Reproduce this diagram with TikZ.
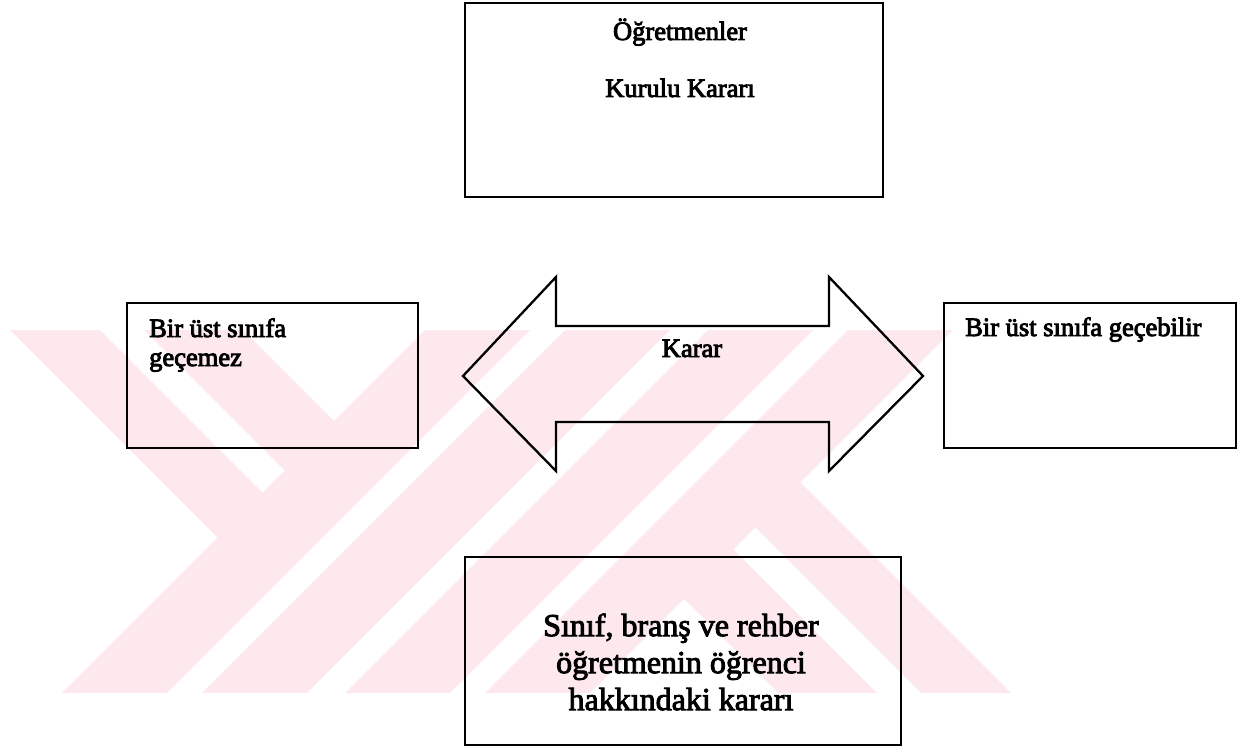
\documentclass[tikz,border=0pt]{standalone}
\usepackage{fontspec}
\setmainfont{Liberation Serif}
\newcommand\emb{\special{pdf:literal direct 2 Tr 0.9 w}}
\definecolor{wmpink}{RGB}{253,233,237}
\begin{document}
\begin{tikzpicture}[x=1pt,y=-1pt,
  wm/.style={fill=wmpink,draw=none},
  boxn/.style={draw=black,line width=2.3pt,inner sep=0pt},
  lbl/.style={font=\fontsize{26.5}{31}\selectfont,inner sep=0pt},
  blbl/.style={font=\fontsize{32}{37}\selectfont,inner sep=0pt,align=center}]
\useasboundingbox (0,0) rectangle (1252,754);
% watermark
\fill[wm] (425,330) -- (530,330) -- (167,693) -- (62,693) -- cycle;
\fill[wm] (565,330) -- (670,330) -- (307,693) -- (202,693) -- cycle;
\fill[wm] (708,330) -- (813,330) -- (450,693) -- (345,693) -- cycle;
\fill[wm] (848,330) -- (953,330) -- (590,693) -- (485,693) -- cycle;
\fill[wm] (10,330) -- (100,330) -- (285,515) -- (240,560) -- cycle;
\fill[wm] (144,330) -- (243,330) -- (356.5,443.5) -- (307,493) -- cycle;
\fill[wm] (667.5,582.5) -- (717,533) -- (877,693) -- (778,693) -- cycle;
\fill[wm] (739,511) -- (784,466) -- (1011,693) -- (921,693) -- cycle;
% boxes
\node[boxn,minimum width=418pt,minimum height=194pt] (top) at (674,100) {};
\node[boxn,minimum width=291pt,minimum height=145pt] (left) at (272.5,375.5) {};
\node[boxn,minimum width=292pt,minimum height=145pt] (right) at (1090,375.5) {};
\node[boxn,minimum width=436pt,minimum height=188pt] (bottom) at (683,651) {};
% double arrow
\draw[line width=2.3pt,line join=miter] (463,376) -- (556,277) -- (556,326) -- (829,326) -- (829,277) -- (923,376) -- (829,471) -- (829,422) -- (556,422) -- (556,471) -- cycle;
% texts
\node[lbl,anchor=base] (t1) at (680,40) {\emb Öğretmenler};
\node[lbl,anchor=base] (t2) at (680,97) {\emb Kurulu Kararı};
\node[lbl,anchor=base west] (l1) at (149,337) {\emb Bir üst sınıfa};
\node[lbl,anchor=base west] (l2) at (149,366) {\emb geçemez};
\node[lbl,anchor=base west] (r1) at (965,336) {\emb Bir üst sınıfa geçebilir};
\node[lbl,anchor=base] (k) at (692,357) {\emb Karar};
\node[blbl] (b) at (681,662) {\emb Sınıf, branş ve rehber\\\emb öğretmenin öğrenci\\\emb hakkındaki kararı};
\end{tikzpicture}
\end{document}
